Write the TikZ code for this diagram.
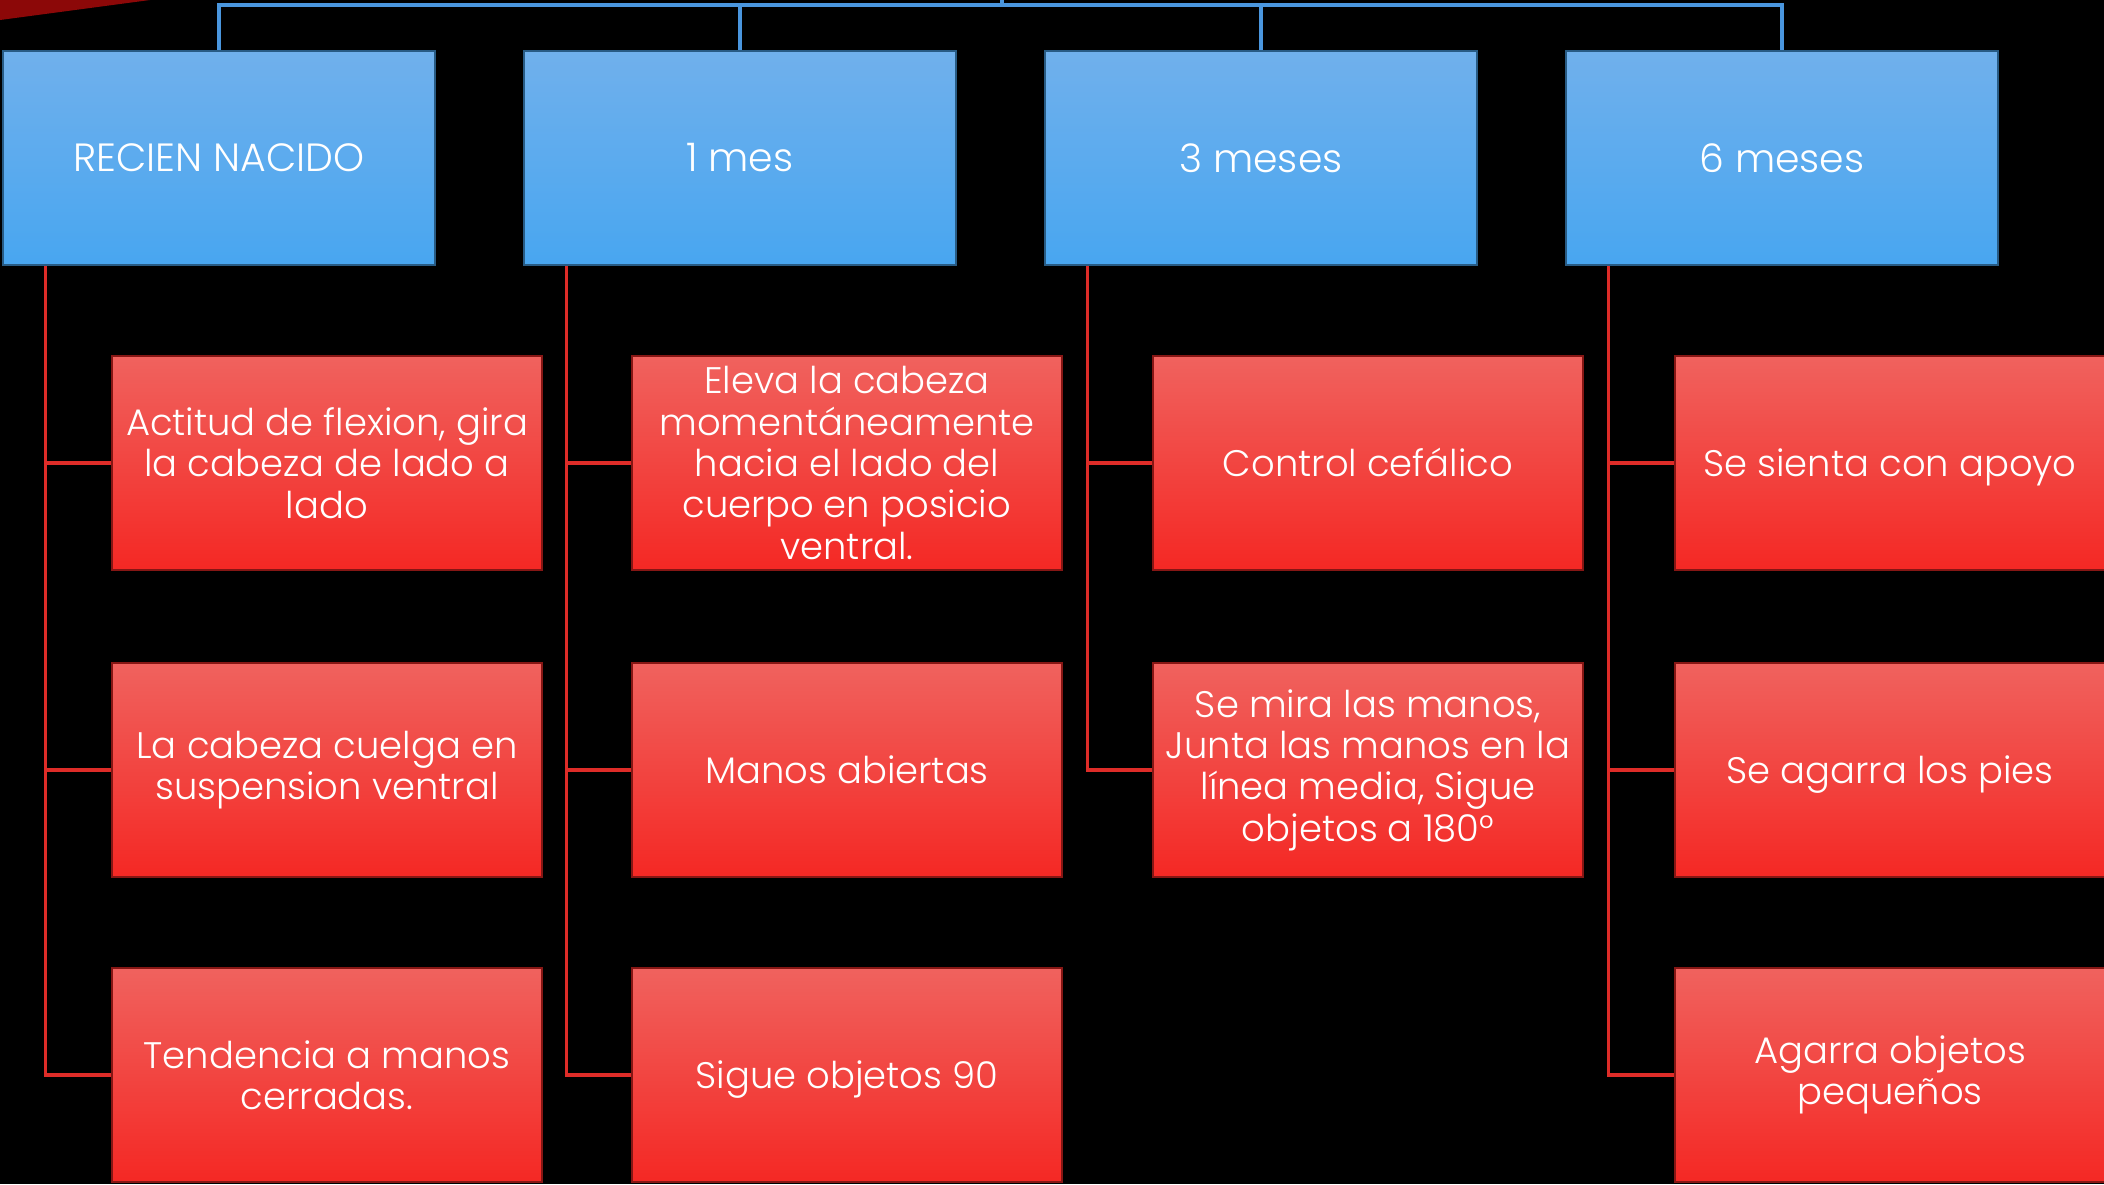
\documentclass[tikz,border=0pt]{standalone}
\usepackage{fontspec}
\setmainfont{Poppins}[UprightFont=* Light]
\usetikzlibrary{positioning}
\definecolor{hdrtop}{RGB}{112,176,236}
\definecolor{hdrbot}{RGB}{72,166,240}
\definecolor{itemtop}{RGB}{240,98,94}
\definecolor{itembot}{RGB}{244,40,36}
\definecolor{treeblue}{RGB}{74,150,222}
\definecolor{treered}{RGB}{222,44,40}
\definecolor{rootred}{RGB}{140,8,8}
\newcommand{\hdrfont}{\fontsize{11.2}{11.75}\selectfont}
\newcommand{\boxfont}{\fontsize{10.5}{11.75}\selectfont}

\tikzset{
  header/.style={draw=hdrbot!55!black, line width=0.6pt, top color=hdrtop, bottom color=hdrbot,
    minimum width=4.31cm, minimum height=2.14cm, text=white, font=\hdrfont, align=center, inner sep=0pt},
  item/.style={draw=itembot!55!black, line width=0.6pt, top color=itemtop, bottom color=itembot,
    minimum width=4.29cm, minimum height=2.14cm, text=white, font=\boxfont, align=center, inner sep=0pt},
  oneline/.style={item, execute at begin node={\rule{0pt}{11.2pt}}, execute at end node=\strut},
  blueline/.style={treeblue, line width=0.9pt},
  redline/.style={treered, line width=0.9pt},
}

\begin{document}
\begin{tikzpicture}[x=0.01cm, y=-0.01cm]
    \useasboundingbox (0,0) rectangle (2104,1184);
    \fill[black] (0,0) rectangle (2104,1184);
    % corner of the root shape, off the page
    \fill[rootred] (0,0) -- (150,0) -- (0,20) -- cycle;

    % Headers
    \node[header] (hdr1) at (219,158) {RECIEN NACIDO};
    \node[header] (hdr2) at (740,158) {1 mes};
    \node[header] (hdr3) at (1261,158) {3 meses};
    \node[header] (hdr4) at (1782,158) {6 meses};

    % Recien nacido
    \node[item] (rn1) at (327,463) {Actitud de flexion, gira\\la cabeza de lado a\\lado};
    \node[item] (rn2) at (327,770) {La cabeza cuelga en\\suspension ventral};
    \node[item] (rn3) at (327,1075) {Tendencia a manos\\cerradas.};

    % 1 mes
    \node[item] (m1a) at (847,463) {Eleva la cabeza\\momentáneamente\\hacia el lado del\\cuerpo en posicio\\ventral.};
    \node[oneline] (m1b) at (847,770) {Manos abiertas};
    \node[oneline] (m1c) at (847,1075) {Sigue objetos 90};

    % 3 meses
    \node[oneline] (m3a) at (1368,463) {Control cefálico};
    \node[item] (m3b) at (1368,770) {Se mira las manos,\\Junta las manos en la\\línea media, Sigue\\objetos a 180°};

    % 6 meses
    \node[oneline] (m6a) at (1890,463) {Se sienta con apoyo};
    \node[oneline] (m6b) at (1890,770) {Se agarra los pies};
    \node[item] (m6c) at (1890,1075) {Agarra objetos\\pequeños};

    % Top connectors
    \coordinate (root) at (1002,0);
    \coordinate (bus) at (1002,5);
    \draw[blueline] (hdr1.north) |- (bus) -| (hdr4.north);
    \draw[blueline] (hdr2.north) -- (hdr2.north |- bus);
    \draw[blueline] (hdr3.north) -- (hdr3.north |- bus);
    \draw[blueline] (bus) -- (root);

    % Branch connectors
    \coordinate (s1) at ([xshift=0.43cm]hdr1.south west);
    \coordinate (s2) at ([xshift=0.43cm]hdr2.south west);
    \coordinate (s3) at ([xshift=0.43cm]hdr3.south west);
    \coordinate (s4) at ([xshift=0.43cm]hdr4.south west);
    \draw[redline] (s1) |- (rn1.west);
    \draw[redline] (s1) |- (rn2.west);
    \draw[redline] (s1) |- (rn3.west);
    \draw[redline] (s2) |- (m1a.west);
    \draw[redline] (s2) |- (m1b.west);
    \draw[redline] (s2) |- (m1c.west);
    \draw[redline] (s3) |- (m3a.west);
    \draw[redline] (s3) |- (m3b.west);
    \draw[redline] (s4) |- (m6a.west);
    \draw[redline] (s4) |- (m6b.west);
    \draw[redline] (s4) |- (m6c.west);
\end{tikzpicture}
\end{document}
